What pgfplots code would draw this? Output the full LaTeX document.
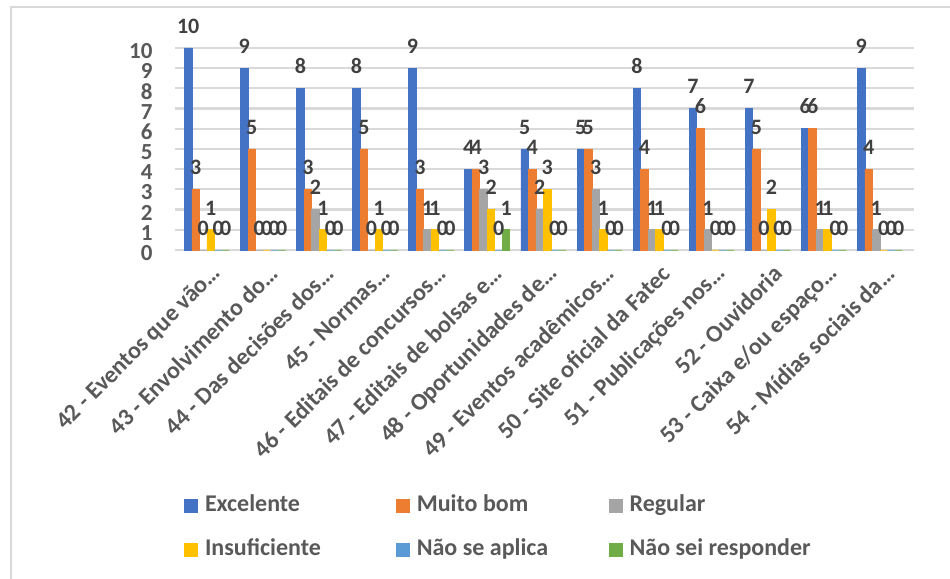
\documentclass[border=0pt]{standalone}
\usepackage{pgfplots}
\pgfplotsset{compat=1.18}
\usepackage{fontspec}
\setmainfont{Carlito}
\definecolor{cA}{HTML}{4472C4}
\definecolor{cB}{HTML}{ED7D31}
\definecolor{cC}{HTML}{A5A5A5}
\definecolor{cD}{HTML}{FFC000}
\definecolor{cE}{HTML}{5B9BD5}
\definecolor{cF}{HTML}{70AD47}
\definecolor{txt}{HTML}{595959}
\definecolor{lbl}{HTML}{404040}
\definecolor{grd}{HTML}{D9D9D9}
\pgfplotsset{
  sq/.style={fill=#1, draw=#1, line width=0.8bp,
    legend image code/.code={\fill[#1] (0bp,-6.5bp) rectangle (13bp,6.5bp); \path (17bp,0bp);}},
}
\begin{document}
\begin{tikzpicture}
\path[use as bounding box] (0,0) rectangle (950bp,579bp);
\draw[grd, line width=1.5bp] (11bp,0) -- (11bp,572bp) -- (950bp,572bp);
\begin{axis}[
  at={(175bp,329bp)}, anchor=south west,
  scale only axis, width=738.6bp, height=202bp,
  xmin=-0.57, xmax=12.6, ymin=0, ymax=10,
  clip=false,
  ybar=0pt, bar width=7.5bp,
  axis line style={draw=none}, tick style={draw=none},
  ymajorgrids, grid style={grd, line width=2.2bp},
  ytick={0,...,10},
  xtick={0,...,12},
  xticklabels={42 - Eventos que vão…, 43 - Envolvimento do…, 44 - Das decisões dos…, 45 - Normas…, 46 - Editais de concursos…, 47 - Editais de bolsas e…, 48 - Oportunidades de…, 49 - Eventos acadêmicos…, 50 - Site oficial da Fatec, 51 - Publicações nos…, 52 - Ouvidoria, 53 - Caixa e/ou espaço…, 54 - Mídias sociais da…},
  /pgf/number format/assume math mode=true,
  yticklabel style={font=\bfseries\fontsize{23bp}{24bp}\selectfont, text=txt, xshift=-19bp, yshift=-3bp},
  xticklabel style={font=\bfseries\fontsize{24bp}{25bp}\selectfont, text=txt, yshift=-13bp, xshift=13bp, rotate=45, anchor=east},
  nodes near coords,
  nodes near coords style={font=\bfseries\fontsize{22bp}{23bp}\selectfont, text=lbl, anchor=south, yshift=11bp},
  legend style={draw=none, fill=none, inner sep=0pt, at={(0.0122,-1.196)}, anchor=north west,
    font=\bfseries\fontsize{24bp}{26bp}\selectfont, text=txt, row sep=16bp,
    nodes={inner sep=3bp, text height=17bp, text depth=5bp}, legend columns=3},
  legend cell align=left,
]
\addplot[sq=cA] coordinates {(0,10) (1,9) (2,8) (3,8) (4,9) (5,4) (6,5) (7,5) (8,8) (9,7) (10,7) (11,6) (12,9)};
\addlegendentry{\makebox[188bp][l]{Excelente}}
\addplot[sq=cB] coordinates {(0,3) (1,5) (2,3) (3,5) (4,3) (5,4) (6,4) (7,5) (8,4) (9,6) (10,5) (11,6) (12,4)};
\addlegendentry{\makebox[189bp][l]{Muito bom}}
\addplot[sq=cC] coordinates {(0,0) (1,0) (2,2) (3,0) (4,1) (5,3) (6,2) (7,3) (8,1) (9,1) (10,0) (11,1) (12,1)};
\addlegendentry{Regular}
\addplot[sq=cD] coordinates {(0,1) (1,0) (2,1) (3,1) (4,1) (5,2) (6,3) (7,1) (8,1) (9,0) (10,2) (11,1) (12,0)};
\addlegendentry{\makebox[188bp][l]{Insuficiente}}
\addplot[sq=cE] coordinates {(0,0) (1,0) (2,0) (3,0) (4,0) (5,0) (6,0) (7,0) (8,0) (9,0) (10,0) (11,0) (12,0)};
\addlegendentry{\makebox[189bp][l]{Não se aplica}}
\addplot[sq=cF] coordinates {(0,0) (1,0) (2,0) (3,0) (4,0) (5,1) (6,0) (7,0) (8,0) (9,0) (10,0) (11,0) (12,0)};
\addlegendentry{Não sei responder}
\end{axis}
\end{tikzpicture}
\end{document}
